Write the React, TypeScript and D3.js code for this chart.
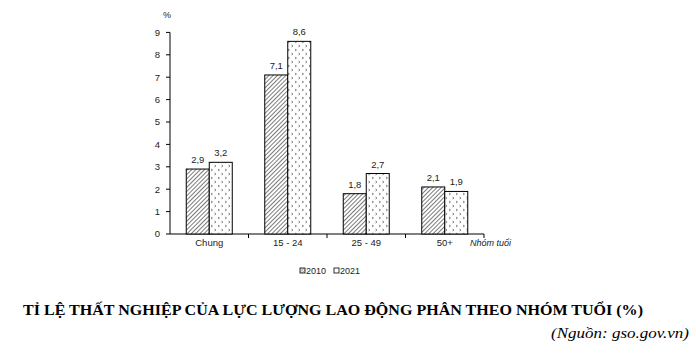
import React from "react";
import * as d3 from "d3";

const categories = ["Chung", "15 - 24", "25 - 49", "50+"];
const series2010 = [2.9, 7.1, 1.8, 2.1];
const series2021 = [3.2, 8.6, 2.7, 1.9];
const seriesNames = ["2010", "2021"];
const yTicks = [0, 1, 2, 3, 4, 5, 6, 7, 8, 9];
const title = "TỈ LỆ THẤT NGHIỆP CỦA LỰC LƯỢNG LAO ĐỘNG PHÂN THEO NHÓM TUỔI (%)";
const source = "(Nguồn: gso.gov.vn)";

const W = 696;
const H = 359;
const left = 170;
const right = 484;
const top = 32.4;
const bottom = 234;

export default function App() {
  const x = d3.scaleBand<string>().domain(categories).range([left, right]).paddingInner(0).paddingOuter(0);
  const y = d3.scaleLinear().domain([0, 9]).range([bottom, top]);
  const barW = 23;
  const fmt = (v: number) => v.toFixed(1).replace(".", ",");
  const axisFont = "'Liberation Sans', Arial, sans-serif";
  const serif = "'Liberation Serif', 'Times New Roman', serif";
  const data = [series2010, series2021];
  const fills = ["url(#hatch)", "url(#dots)"];

  return (
    <svg width={W} height={H} style={{ position: "absolute", left: 0, top: 0, background: "#fff" }}>
      <defs>
        <pattern id="hatch" patternUnits="userSpaceOnUse" width={3} height={3} patternTransform="rotate(45)">
          <rect width={3} height={3} fill="#fff" />
          <line x1={0} y1={0} x2={0} y2={3} stroke="#333" strokeWidth={1.3} />
        </pattern>
        <pattern id="dots" patternUnits="userSpaceOnUse" width={7} height={8}>
          <rect width={7} height={8} fill="#fff" />
          <path d="M1,1 L2.5,2 L1,3" fill="none" stroke="#555" strokeWidth={0.7} />
          <path d="M4.5,5 L6,6 L4.5,7" fill="none" stroke="#555" strokeWidth={0.7} />
        </pattern>
        <pattern id="hatchSmall" patternUnits="userSpaceOnUse" width={2} height={2} patternTransform="rotate(45)">
          <rect width={2} height={2} fill="#fff" />
          <line x1={0} y1={0} x2={0} y2={2} stroke="#333" strokeWidth={0.8} />
        </pattern>
      </defs>

      {/* y axis */}
      <line x1={left} x2={left} y1={y(9)} y2={bottom} stroke="#000" strokeWidth={1} />
      {yTicks.map((t) => (
        <g key={t}>
          <line x1={left - 4} x2={left} y1={y(t)} y2={y(t)} stroke="#000" />
          <text x={left - 10} y={y(t)} dy="0.35em" textAnchor="end" fontFamily={axisFont} fontSize={9.5} fill="#222">
            {t}
          </text>
        </g>
      ))}
      <text x={left - 3} y={18} textAnchor="middle" fontFamily={axisFont} fontSize={9} fill="#222">%</text>

      {/* x axis */}
      <line x1={left} x2={right} y1={bottom} y2={bottom} stroke="#000" />
      {categories.map((c) => (
        <line key={c} x1={(x(c) as number) + x.bandwidth()} x2={(x(c) as number) + x.bandwidth()} y1={bottom} y2={bottom + 4} stroke="#000" />
      ))}
      {categories.map((c) => (
        <text key={c} x={(x(c) as number) + x.bandwidth() / 2} y={bottom + 12} textAnchor="middle" fontFamily={axisFont} fontSize={9.5} fill="#222">
          {c}
        </text>
      ))}
      <text x={right - 14} y={bottom + 12} fontFamily={axisFont} fontSize={9} fontStyle="italic" fill="#222">
        Nhóm tuổi
      </text>

      {/* bars */}
      {categories.map((c, i) => {
        const cx = (x(c) as number) + x.bandwidth() / 2;
        return data.map((s, k) => {
          const bx = cx - barW + k * barW;
          const v = s[i];
          return (
            <g key={c + k}>
              <rect x={bx} y={y(v)} width={barW} height={bottom - y(v)} fill={fills[k]} stroke="#000" strokeWidth={1} />
              <text x={bx + barW / 2} y={y(v) - 6} textAnchor="middle" fontFamily={axisFont} fontSize={9.5} fill="#222">
                {fmt(v)}
              </text>
            </g>
          );
        });
      })}

      {/* legend */}
      {seriesNames.map((n, k) => {
        const lx = 300 + k * 34;
        return (
          <g key={n}>
            <rect x={lx} y={268} width={5} height={5} fill={k === 0 ? "url(#hatchSmall)" : "#fff"} stroke="#000" strokeWidth={0.8} />
            <text x={lx + 6} y={273.5} fontFamily={axisFont} fontSize={9} fill="#222">{n}</text>
          </g>
        );
      })}

      {/* title */}
      <text x={23} y={315} fontFamily={serif} fontWeight="bold" fontSize={15.5} fill="#000" textLength={620} lengthAdjust="spacingAndGlyphs">
        {title}
      </text>
      <text x={551} y={338} fontFamily={serif} fontStyle="italic" fontSize={14.5} fill="#000" textLength={138} lengthAdjust="spacingAndGlyphs">
        {source}
      </text>
    </svg>
  );
}
